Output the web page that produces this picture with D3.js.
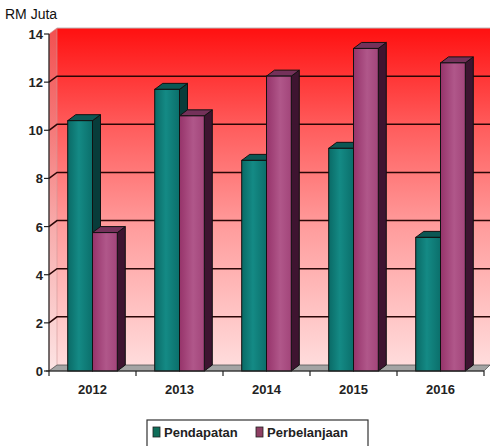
<!DOCTYPE html>
<html lang="en">
<head>
    <script src="https://cdn.jsdelivr.net/npm/d3@7/dist/d3.min.js"></script>
    <style>
        body { margin: 0; background: #fff; }
        text { font-family: "Liberation Sans", Arial, sans-serif; }
    </style>
</head>
<body>
<div id="chart"></div>
<script>
    var years = ["2012", "2013", "2014", "2015", "2016"]
    var seriesNames = ["Pendapatan", "Perbelanjaan"]
    var pendapatan = [10.4, 11.7, 8.75, 9.25, 5.55]
    var perbelanjaan = [5.75, 10.6, 12.25, 13.4, 12.8]
    var yTicks = [0, 2, 4, 6, 8, 10, 12, 14]

    var width = 490, height = 446
    var dx = 8, dy = -6   // 3d depth offset

    var svg = d3.select("#chart").append("svg")
        .attr("width", width)
        .attr("height", height)

    var y = d3.scaleLinear().domain([0, 14]).range([371, 34])
    var x = d3.scaleBand().domain(years).range([49, 484])
    var xs = d3.scaleBand().domain(seriesNames)
        .range([x.bandwidth() * 0.215, x.bandwidth() * 0.785])

    var defs = svg.append("defs")
    function vGrad(id, stops) {
        var g = defs.append("linearGradient").attr("id", id)
            .attr("x1", 0).attr("y1", 0).attr("x2", 0).attr("y2", 1)
        stops.forEach(function(s) {
            g.append("stop").attr("offset", s[0]).attr("stop-color", s[1])
        })
    }
    function hGrad(id, stops) {
        var g = defs.append("linearGradient").attr("id", id)
            .attr("x1", 0).attr("y1", 0).attr("x2", 1).attr("y2", 0)
        stops.forEach(function(s) {
            g.append("stop").attr("offset", s[0]).attr("stop-color", s[1])
        })
    }
    vGrad("wall", [[0, "#ff1010"], [0.3, "#ff5e5e"], [0.6, "#ff9e9e"], [1, "#ffdcdc"]])
    vGrad("side", [[0, "#f25050"], [0.3, "#f57a7a"], [0.6, "#f8aeae"], [1, "#fde4e4"]])
    hGrad("teal", [[0, "#0a6a66"], [0.45, "#148a85"], [1, "#0b6f6b"]])
    hGrad("purple", [[0, "#96336a"], [0.55, "#b0578a"], [1, "#a2457a"]])

    var x0 = 49, x1 = 484
    var yTop = y(14), yBot = y(0)

    // back wall
    svg.append("rect")
        .attr("x", x0 + dx).attr("y", yTop + dy)
        .attr("width", width - x0 - dx).attr("height", yBot - yTop)
        .attr("fill", "url(#wall)")
    svg.append("line")
        .attr("x1", x0 + dx).attr("x2", width)
        .attr("y1", yTop + dy).attr("y2", yTop + dy)
        .attr("stroke", "#bbb").attr("stroke-width", 1)

    // side wall
    svg.append("polygon")
        .attr("points", [[x0, yTop], [x0 + dx, yTop + dy], [x0 + dx, yBot + dy], [x0, yBot]].join(" "))
        .attr("fill", "url(#side)")
        .attr("stroke", "#c99").attr("stroke-width", 0.6)

    // floor
    svg.append("polygon")
        .attr("points", [[x0, yBot], [x0 + dx, yBot + dy], [width, yBot + dy], [x1, yBot]].join(" "))
        .attr("fill", "#a4a4a4")
        .attr("stroke", "#555").attr("stroke-width", 0.8)

    // gridlines
    svg.selectAll(".grid")
        .data(yTicks.filter(function(d) { return d > 0 && d < 14 }))
        .enter().append("path")
        .attr("d", function(d) {
            return "M" + x0 + "," + y(d) + "L" + (x0 + dx) + "," + (y(d) + dy) + "L" + width + "," + (y(d) + dy)
        })
        .attr("fill", "none")
        .attr("stroke", "#2b0606")
        .attr("stroke-width", 1.5)

    // bars
    var data = []
    years.forEach(function(yr, i) {
        data.push({ year: yr, key: "Pendapatan", value: pendapatan[i] })
        data.push({ year: yr, key: "Perbelanjaan", value: perbelanjaan[i] })
    })
    var topCol = { Pendapatan: "#0c5754", Perbelanjaan: "#74315a" }
    var sideCol = { Pendapatan: "#083c3a", Perbelanjaan: "#3e1430" }
    var frontCol = { Pendapatan: "url(#teal)", Perbelanjaan: "url(#purple)" }

    var bars = svg.selectAll(".bar").data(data).enter().append("g")
    bars.each(function(d) {
        var g = d3.select(this)
        var bx = x(d.year) + xs(d.key), bw = xs.bandwidth()
        var ty = y(d.value), by = y(0)
        g.append("polygon")
            .attr("points", [[bx + bw, ty], [bx + bw + dx, ty + dy], [bx + bw + dx, by + dy], [bx + bw, by]].join(" "))
            .attr("fill", sideCol[d.key]).attr("stroke", "#111").attr("stroke-width", 1)
        g.append("polygon")
            .attr("points", [[bx, ty], [bx + dx, ty + dy], [bx + bw + dx, ty + dy], [bx + bw, ty]].join(" "))
            .attr("fill", topCol[d.key]).attr("stroke", "#111").attr("stroke-width", 1)
        g.append("rect")
            .attr("x", bx).attr("y", ty).attr("width", bw).attr("height", by - ty)
            .attr("fill", frontCol[d.key]).attr("stroke", "#111").attr("stroke-width", 1)
    })

    // axes
    svg.append("line").attr("x1", x0).attr("x2", x0).attr("y1", yTop).attr("y2", yBot)
        .attr("stroke", "#222").attr("stroke-width", 1.2)
    svg.append("line").attr("x1", x0 - 3).attr("x2", x1).attr("y1", yBot).attr("y2", yBot)
        .attr("stroke", "#222").attr("stroke-width", 1.2)

    svg.selectAll(".ytick").data(yTicks).enter().append("line")
        .attr("x1", x0 - 5).attr("x2", x0).attr("y1", function(d) { return y(d) }).attr("y2", function(d) { return y(d) })
        .attr("stroke", "#222").attr("stroke-width", 1.2)
    svg.selectAll(".ylab").data(yTicks).enter().append("text")
        .attr("x", x0 - 6).attr("y", function(d) { return y(d) + 5 })
        .attr("text-anchor", "end")
        .attr("font-size", 13).attr("font-weight", "bold").attr("fill", "#222")
        .text(function(d) { return d })

    var xTicks = years.map(function(d) { return x(d) }).concat([x1])
    svg.selectAll(".xtick").data(xTicks).enter().append("line")
        .attr("x1", function(d) { return d }).attr("x2", function(d) { return d })
        .attr("y1", yBot).attr("y2", yBot + 5)
        .attr("stroke", "#222").attr("stroke-width", 1.2)
    svg.selectAll(".xlab").data(years).enter().append("text")
        .attr("x", function(d) { return x(d) + x.bandwidth() / 2 })
        .attr("y", 394)
        .attr("text-anchor", "middle")
        .attr("font-size", 13).attr("font-weight", "bold").attr("fill", "#222")
        .text(function(d) { return d })

    // unit label
    svg.append("text").attr("x", 5).attr("y", 19)
        .attr("font-size", 14).attr("fill", "#111")
        .text("RM Juta")

    // legend
    var legend = svg.append("g")
    legend.append("rect")
        .attr("x", 147).attr("y", 420).attr("width", 221).attr("height", 40)
        .attr("fill", "#fff").attr("stroke", "#333").attr("stroke-width", 1.2)
    var legX = [153, 256]
    var legFill = ["#0f6e5a", "#8e3f63"]
    seriesNames.forEach(function(name, i) {
        legend.append("rect")
            .attr("x", legX[i]).attr("y", 427).attr("width", 7).attr("height", 10)
            .attr("fill", legFill[i]).attr("stroke", "#222").attr("stroke-width", 0.8)
        legend.append("text")
            .attr("x", legX[i] + 11).attr("y", 437)
            .attr("font-size", 13).attr("font-weight", "bold").attr("fill", "#222")
            .text(name)
    })
</script>
</body>
</html>
